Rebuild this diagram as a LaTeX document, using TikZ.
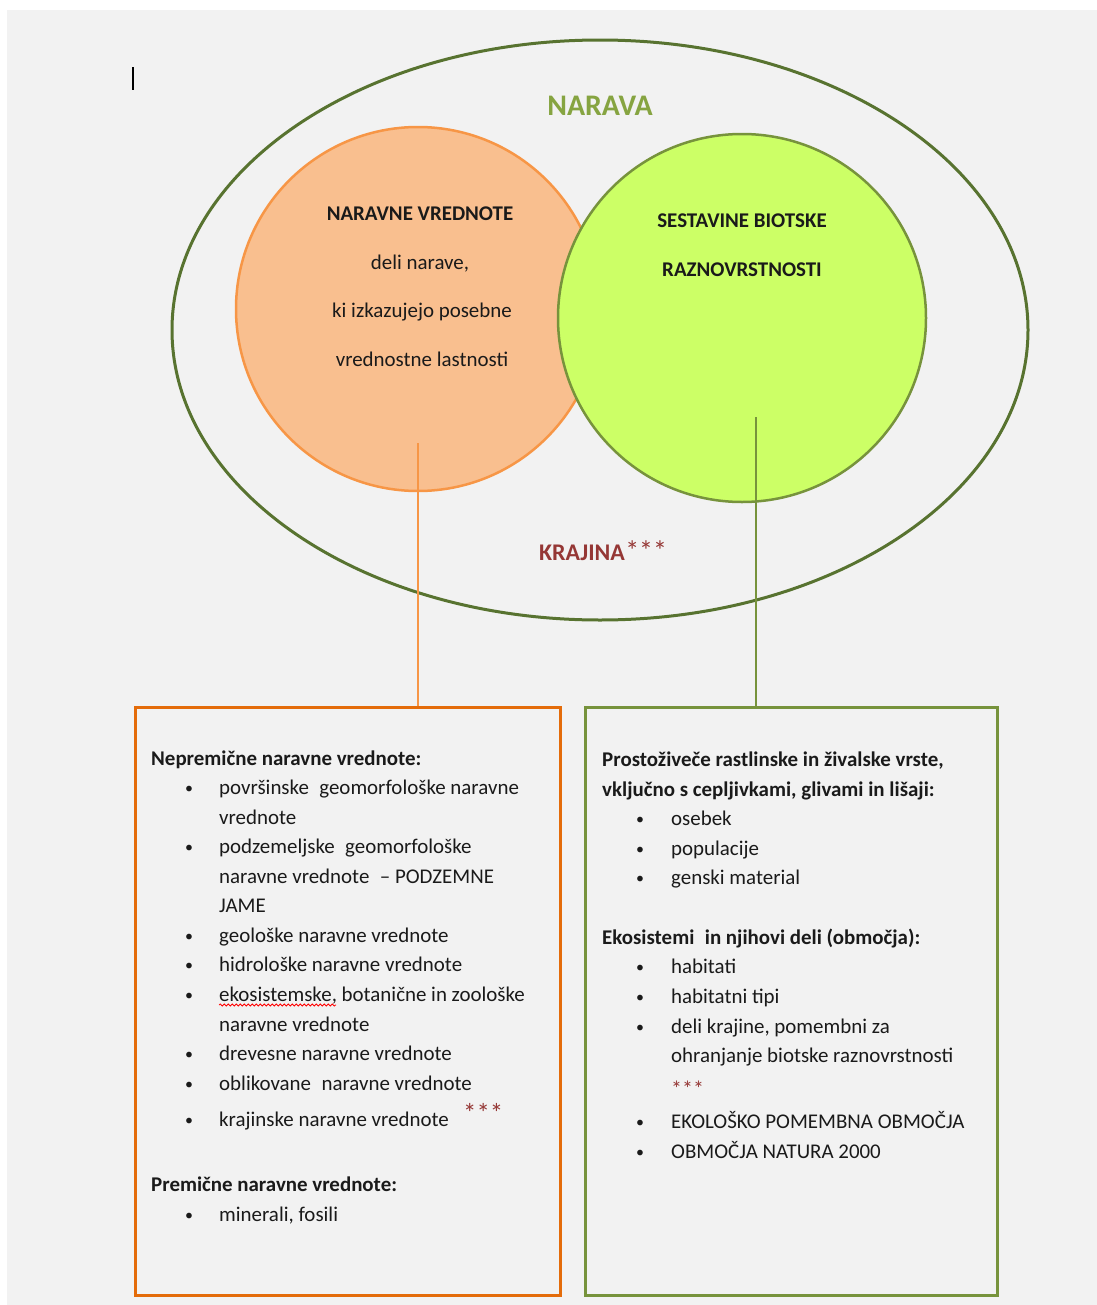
\documentclass[tikz,border=0pt]{standalone}
\usepackage{fontspec}
\setmainfont{Carlito}
\usepackage{tikz}
\usetikzlibrary{shapes,decorations.pathmorphing}
\definecolor{pagegray}{HTML}{F2F2F2}
\definecolor{olivedark}{HTML}{587330}
\definecolor{olivetext}{HTML}{86A441}
\definecolor{peach}{HTML}{F9BF8F}
\definecolor{peachline}{HTML}{F79646}
\definecolor{lime}{HTML}{CCFF66}
\definecolor{limeline}{HTML}{77933C}
\definecolor{boxorange}{HTML}{E46C0A}
\definecolor{krajred}{HTML}{953735}
\definecolor{inkgray}{HTML}{1A1A1A}

\begin{document}
\begin{tikzpicture}[
  txt/.style={inner sep=0pt,anchor=base,text=inkgray,font=\fontsize{21}{24}\selectfont},
  btxt/.style={txt,font=\fontsize{21}{24}\selectfont\bfseries},
  head/.style={btxt,anchor=base west},
  item/.style={txt,anchor=base west},
  dot/.style={txt,anchor=base,font=\fontsize{16}{18}\selectfont},
  stars/.style={inner sep=0pt,anchor=base west,text=krajred,font=\fontsize{27}{30}\selectfont}
]
\useasboundingbox (0bp,0bp) rectangle (1097bp,-1305bp);
\fill[pagegray] (7bp,-10bp) rectangle (1097bp,-1305bp);
\draw[line width=1.6bp] (133bp,-67bp) -- (133bp,-90bp);

% narava, the two circles
\node (narava) at (600bp,-330bp)[draw=olivedark,line width=3bp,ellipse,minimum width=856bp,minimum height=580bp] {};
\node (nv) at (418bp,-309bp)[draw=peachline,fill=peach,line width=2.5bp,circle,minimum size=364bp] {};
\node (sbr) at (742bp,-318bp)[draw=limeline,fill=lime,line width=2.5bp,circle,minimum size=368bp] {};

\node (naravat) at (600bp,-115bp)[btxt,text=olivetext,font=\fontsize{30}{34}\selectfont\bfseries] {NARAVA};
\node (krajina) at (582bp,-560bp)[btxt,text=krajred,font=\fontsize{24}{28}\selectfont\bfseries] {KRAJINA};
\node (krst) at (krajina.base east)[stars,font=\fontsize{28}{30}\selectfont] {***};

\node (nv1) at (420bp,-220bp)[btxt] {NARAVNE VREDNOTE};
\node (nv2) at (420bp,-269bp)[txt] {deli narave,};
\node (nv3) at (422bp,-317bp)[txt] {ki izkazujejo posebne};
\node (nv4) at (422bp,-366bp)[txt] {vrednostne lastnosti};
\node (sbr1) at (742bp,-227bp)[btxt] {SESTAVINE BIOTSKE};
\node (sbr2) at (742bp,-276bp)[btxt] {RAZNOVRSTNOSTI};

% the two boxes
\node (obox) at (347.5bp,-1001bp)[draw=boxorange,line width=3bp,minimum width=425bp,minimum height=588bp] {};
\node (gbox) at (791bp,-1001bp)[draw=limeline,line width=3bp,minimum width=412bp,minimum height=588bp] {};
\coordinate (nvfoot) at (418bp,-443bp);
\coordinate (sbrfoot) at (756bp,-417bp);
\draw [peachline,line width=1.5bp] (nvfoot) -- (nvfoot |- obox.north);
\draw [limeline,line width=1.5bp] (sbrfoot) -- (sbrfoot |- gbox.north);

% left box
\node (oh1) at (151bp,-765bp)[head] {Nepremične naravne vrednote:};
\node (ob1) at (189bp,-793bp)[dot] {\textbullet};
\node (oi1) at (219bp,-794bp)[item] {površinske\enspace geomorfološke naravne};
\node (oi1b) at (219bp,-824bp)[item] {vrednote};
\node (ob2) at (189bp,-852bp)[dot] {\textbullet};
\node (oi2) at (219bp,-853bp)[item] {podzemeljske\enspace geomorfološke};
\node (oi2b) at (219bp,-883bp)[item] {naravne vrednote\enspace -- PODZEMNE};
\node (oi2c) at (219bp,-912bp)[item] {JAME};
\node (ob3) at (189bp,-941bp)[dot] {\textbullet};
\node (oi3) at (219bp,-942bp)[item] {geološke naravne vrednote};
\node (ob4) at (189bp,-970bp)[dot] {\textbullet};
\node (oi4) at (219bp,-971bp)[item] {hidrološke naravne vrednote};
\node (ob5) at (189bp,-1000bp)[dot] {\textbullet};
\node (eko) at (219bp,-1001bp)[item] {ekosistemske, botanične in zoološke};
\node (oi5b) at (219bp,-1031bp)[item] {naravne vrednote};
\node (ob6) at (189bp,-1059bp)[dot] {\textbullet};
\node (oi6) at (219bp,-1060bp)[item] {drevesne naravne vrednote};
\node (ob7) at (189bp,-1089bp)[dot] {\textbullet};
\node (oi7) at (219bp,-1090bp)[item] {oblikovane\enspace naravne vrednote};
\node (ob8) at (189bp,-1125bp)[dot] {\textbullet};
\node (oi8) at (219bp,-1126bp)[item] {krajinske naravne vrednote};
\node (ost) at (463bp,-1122bp)[stars] {***};
\draw [red,line width=0.8bp,decorate,decoration={snake,amplitude=1bp,segment length=4bp}] ([yshift=-4bp]eko.base west) -- ++(117bp,0);
\node (oh2) at (151bp,-1191bp)[head] {Premične naravne vrednote:};
\node (ob9) at (189bp,-1220bp)[dot] {\textbullet};
\node (oi9) at (219bp,-1221bp)[item] {minerali, fosili};

% right box
\node (gh1) at (602bp,-766bp)[head] {Prostoživeče rastlinske in živalske vrste,};
\node (gh1b) at (602bp,-796bp)[head] {vključno s cepljivkami, glivami in lišaji:};
\node (gb1) at (640bp,-824bp)[dot] {\textbullet};
\node (gi1) at (671bp,-825bp)[item] {osebek};
\node (gb2) at (640bp,-854bp)[dot] {\textbullet};
\node (gi2) at (671bp,-855bp)[item] {populacije};
\node (gb3) at (640bp,-883bp)[dot] {\textbullet};
\node (gi3) at (671bp,-884bp)[item] {genski material};
\node (gh2) at (602bp,-944bp)[head] {Ekosistemi\enspace in njihovi deli (območja):};
\node (gb4) at (640bp,-972bp)[dot] {\textbullet};
\node (gi4) at (671bp,-973bp)[item] {habitati};
\node (gb5) at (640bp,-1002bp)[dot] {\textbullet};
\node (gi5) at (671bp,-1003bp)[item] {habitatni tipi};
\node (gb6) at (640bp,-1032bp)[dot] {\textbullet};
\node (gi6) at (671bp,-1033bp)[item] {deli krajine, pomembni za};
\node (gi6b) at (671bp,-1062bp)[item] {ohranjanje biotske raznovrstnosti};
\node (gst) at (671bp,-1096bp)[stars,font=\fontsize{22}{24}\selectfont] {***};
\node (gb7) at (640bp,-1127bp)[dot] {\textbullet};
\node (gi7) at (671bp,-1128bp)[item] {EKOLOŠKO POMEMBNA OBMOČJA};
\node (gb8) at (640bp,-1157bp)[dot] {\textbullet};
\node (gi8) at (671bp,-1158bp)[item] {OBMOČJA NATURA 2000};
\end{tikzpicture}
\end{document}
